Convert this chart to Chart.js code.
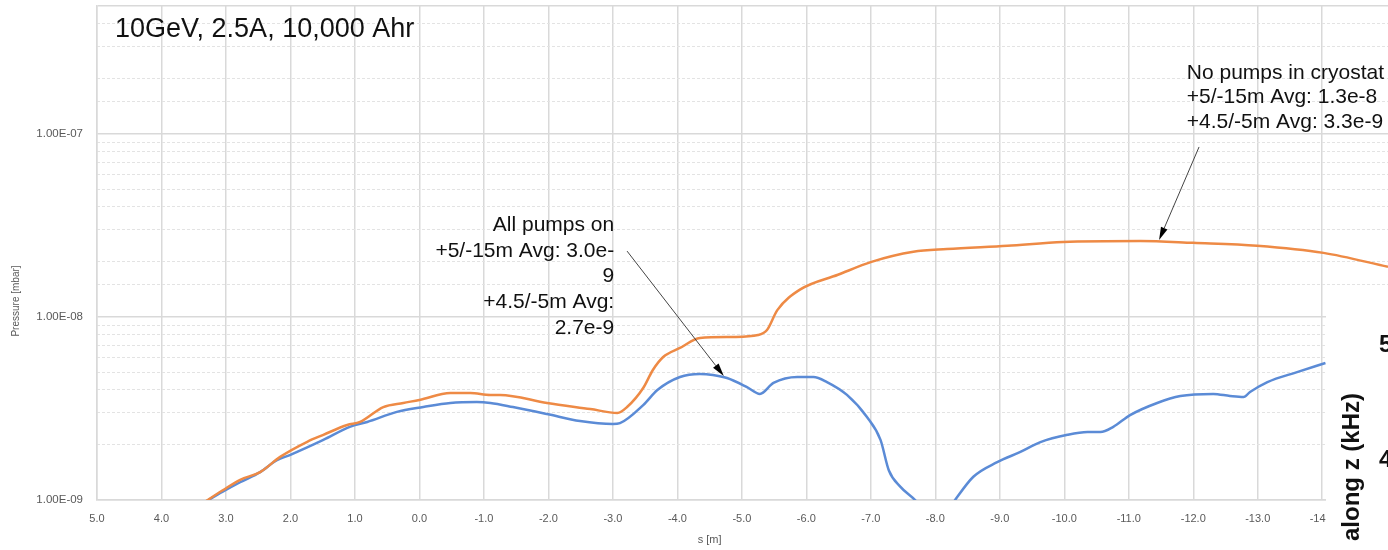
<!DOCTYPE html>
<html lang="en">
<head>
<meta charset="UTF-8">
<title>Pressure along s</title>
<script src="https://cdn.jsdelivr.net/npm/chart.js"></script>
<style>
  body { margin: 0; background: #fff; overflow: hidden; }
</style>
</head>
<body>
<canvas id="pressureChart" width="1388" height="550"></canvas>
<script>
// s positions shown on the x axis (reversed: +5 on the left)
const xTicks = [5, 4, 3, 2, 1, 0, -1, -2, -3, -4, -5, -6, -7, -8, -9, -10, -11, -12, -13, -14];

// "No pumps in cryostat" (orange)
const noPumpsS = [3.4, 3.05, 2.78, 2.47, 2.16, 1.74, 1.49, 1.12, 0.92, 0.56, 0.25, 0.0, -0.48, -0.79, -1.1, -1.25,
  -1.98, -2.65, -3.07, -3.22, -3.47, -3.62, -3.78, -4.04, -4.35, -4.87, -5.25, -5.39, -5.55, -5.9, -6.49, -7.01,
  -7.66, -8.18, -9.12, -9.98, -11.18, -12.0, -12.99, -14.02, -15.02];
const noPumpsP = [0.94e-9, 1.13e-9, 1.29e-9, 1.42e-9, 1.72e-9, 2.08e-9, 2.27e-9, 2.57e-9, 2.67e-9, 3.22e-9, 3.39e-9,
  3.52e-9, 3.84e-9, 3.84e-9, 3.75e-9, 3.75e-9, 3.39e-9, 3.14e-9, 2.99e-9, 3.22e-9, 4.09e-9, 5.13e-9, 6.04e-9, 6.77e-9,
  7.68e-9, 7.78e-9, 7.97e-9, 8.49e-9, 1.09e-8, 1.41e-8, 1.70e-8, 2.0e-8, 2.27e-8, 2.35e-8, 2.45e-8, 2.57e-8, 2.60e-8,
  2.54e-8, 2.45e-8, 2.24e-8, 1.88e-8];

// "All pumps on" (blue)
const allPumpsS = [3.4, 3.05, 2.78, 2.47, 2.21, 2.01, 1.49, 1.08, 0.81, 0.35, -0.06, -0.48, -0.89, -1.1, -1.45, -1.98,
  -2.49, -3.0, -3.11, -3.47, -3.69, -4.04, -4.35, -4.55, -4.77, -5.08, -5.28, -5.49, -5.86, -6.11, -6.32, -6.63, -6.94,
  -7.15, -7.28, -7.46, -7.72, -8.0, -8.28, -8.59, -8.96, -9.32, -9.63, -10.05, -10.36, -10.56, -10.76, -11.02, -11.44,
  -11.8, -12.31, -12.57, -12.78, -12.88, -13.15, -13.61, -14.05];
const allPumpsP = [0.94e-9, 1.11e-9, 1.25e-9, 1.42e-9, 1.65e-9, 1.76e-9, 2.13e-9, 2.51e-9, 2.67e-9, 3.03e-9, 3.22e-9,
  3.39e-9, 3.43e-9, 3.39e-9, 3.22e-9, 2.95e-9, 2.70e-9, 2.60e-9, 2.63e-9, 3.30e-9, 3.99e-9, 4.70e-9, 4.88e-9, 4.82e-9,
  4.64e-9, 4.14e-9, 3.80e-9, 4.36e-9, 4.70e-9, 4.70e-9, 4.41e-9, 3.75e-9, 2.84e-9, 2.13e-9, 1.45e-9, 1.18e-9, 0.97e-9,
  0.7e-9, 0.97e-9, 1.34e-9, 1.61e-9, 1.83e-9, 2.07e-9, 2.27e-9, 2.35e-9, 2.35e-9, 2.51e-9, 2.91e-9, 3.39e-9, 3.70e-9,
  3.80e-9, 3.70e-9, 3.65e-9, 3.89e-9, 4.41e-9, 5.0e-9, 5.6e-9];

const chartNote = '10GeV, 2.5A, 10,000 Ahr';
const allPumpsNote = ['All pumps on', '+5/-15m Avg: 3.0e-', '9', '+4.5/-5m Avg:', '2.7e-9'];
const noPumpsNote = ['No pumps in cryostat', '+5/-15m Avg: 1.3e-8', '+4.5/-5m Avg: 3.3e-9'];

const yMin = 1e-9, yMax = 5e-7;
const FONT = '"Liberation Sans", Arial, sans-serif';
const GRID = '#d9d9d9';

const toPoints = (xs, ys) => xs.map((s, i) => ({ x: s, y: ys[i] }));

function isDecade(v) {
  const e = Math.round(Math.log10(v));
  return Math.abs(v / Math.pow(10, e) - 1) < 1e-6;
}

function sciLabel(v) {
  if (!isDecade(v)) return '';
  const e = Math.round(Math.log10(v));
  return '1.00E' + (e < 0 ? '-' : '+') + String(Math.abs(e)).padStart(2, '0');
}

function drawArrow(ctx, x1, y1, x2, y2) {
  const ang = Math.atan2(y2 - y1, x2 - x1);
  const len = 13, half = 3.5;
  ctx.strokeStyle = '#444';
  ctx.lineWidth = 1;
  ctx.beginPath();
  ctx.moveTo(x1, y1);
  ctx.lineTo(x2 - len * Math.cos(ang), y2 - len * Math.sin(ang));
  ctx.stroke();
  ctx.fillStyle = '#000';
  ctx.beginPath();
  ctx.moveTo(x2, y2);
  ctx.lineTo(x2 - len * Math.cos(ang) + half * Math.sin(ang), y2 - len * Math.sin(ang) - half * Math.cos(ang));
  ctx.lineTo(x2 - len * Math.cos(ang) - half * Math.sin(ang), y2 - len * Math.sin(ang) + half * Math.cos(ang));
  ctx.closePath();
  ctx.fill();
}

const notesPlugin = {
  id: 'notes',
  afterDraw(chart) {
    const { ctx, chartArea } = chart;
    const x = chart.scales.x, y = chart.scales.y;
    ctx.save();

    // title inside the plot
    ctx.fillStyle = '#111';
    ctx.textBaseline = 'middle';
    ctx.textAlign = 'left';
    ctx.font = '27px ' + FONT;
    ctx.fillText(chartNote, chartArea.left + 18, chartArea.top + 24);

    // axis titles
    ctx.fillStyle = '#595959';
    ctx.font = '11px ' + FONT;
    ctx.textAlign = 'center';
    ctx.fillText('s [m]', x.getPixelForValue(-4.5), 540);
    ctx.save();
    ctx.translate(16, 301);
    ctx.rotate(-Math.PI / 2);
    ctx.font = '10px ' + FONT;
    ctx.fillText('Pressure [mbar]', 0, 0);
    ctx.restore();

    // annotations
    ctx.fillStyle = '#111';
    ctx.font = '21px ' + FONT;
    ctx.textAlign = 'right';
    let ty = y.getPixelForValue(3.18e-8);
    allPumpsNote.forEach((line, i) => ctx.fillText(line, x.getPixelForValue(-3.02), ty + i * 25.8));
    ctx.textAlign = 'left';
    ty = y.getPixelForValue(2.15e-7);
    noPumpsNote.forEach((line, i) => ctx.fillText(line, x.getPixelForValue(-11.9), ty + i * 24.5));

    drawArrow(ctx, x.getPixelForValue(-3.22), y.getPixelForValue(2.29e-8),
      x.getPixelForValue(-4.72), y.getPixelForValue(4.76e-9));
    drawArrow(ctx, x.getPixelForValue(-12.09), y.getPixelForValue(8.49e-8),
      x.getPixelForValue(-11.47), y.getPixelForValue(2.63e-8));

    // pasted-over piece of the next figure in the lower right corner
    ctx.fillStyle = '#fff';
    ctx.fillRect(1326, 303, 62, 247);
    ctx.fillStyle = '#111';
    ctx.font = 'bold 24px ' + FONT;
    ctx.textAlign = 'left';
    ctx.fillText('5', 1379, 345);
    ctx.fillText('4', 1379, 460);
    ctx.save();
    ctx.translate(1359, 393);
    ctx.rotate(-Math.PI / 2);
    ctx.textAlign = 'right';
    ctx.textBaseline = 'alphabetic';
    ctx.fillText('along z (kHz)', 0, 0);
    ctx.restore();

    ctx.restore();
  }
};

const ctx = document.getElementById('pressureChart').getContext('2d');
new Chart(ctx, {
  type: 'line',
  data: {
    datasets: [
      { label: 'No pumps in cryostat', data: toPoints(noPumpsS, noPumpsP), borderColor: '#EE8A45',
        borderWidth: 2.5, pointRadius: 0, cubicInterpolationMode: 'monotone' },
      { label: 'All pumps on', data: toPoints(allPumpsS, allPumpsP), borderColor: '#5B8BD6',
        borderWidth: 2.5, pointRadius: 0, cubicInterpolationMode: 'monotone' }
    ]
  },
  options: {
    responsive: false,
    animation: false,
    layout: { padding: { top: 6, right: 0, bottom: 0, left: 0 } },
    plugins: { legend: { display: false }, tooltip: { enabled: false } },
    scales: {
      x: {
        type: 'linear', reverse: true, min: -15.02, max: 5,
        afterBuildTicks: s => { s.ticks = xTicks.map(v => ({ value: v })); },
        afterFit: s => { s.height = 50; s.paddingLeft = 0; s.paddingRight = 0; },
        grid: { color: GRID, lineWidth: 1.5, drawTicks: false },
        border: { color: GRID, width: 1.5 },
        ticks: { color: '#595959', font: { size: 11, family: FONT }, padding: 12, autoSkip: false,
          maxRotation: 0, callback: v => v.toFixed(1) }
      },
      y: {
        type: 'logarithmic', min: yMin, max: yMax, position: 'left',
        afterFit: s => { s.width = 97; s.paddingTop = 0; s.paddingBottom = 0; },
        grid: { color: c => (isDecade(c.tick.value) || c.tick.value >= yMax * 0.999) ? GRID : 'rgba(0,0,0,0)',
          lineWidth: 1.5, drawTicks: false },
        border: { color: GRID, width: 1.5 },
        ticks: { color: '#595959', font: { size: 11.5, family: FONT }, padding: 14, autoSkip: false,
          callback: v => sciLabel(v) }
      },
      yMinor: {
        type: 'logarithmic', min: yMin, max: yMax, position: 'left',
        afterFit: s => { s.width = 0; s.paddingTop = 0; s.paddingBottom = 0; },
        grid: { color: c => (isDecade(c.tick.value) || c.tick.value >= yMax * 0.999) ? 'rgba(0,0,0,0)' : '#e3e3e3',
          lineWidth: 1, drawTicks: false },
        border: { display: false, dash: [3, 2] },
        ticks: { display: false, autoSkip: false }
      }
    }
  },
  plugins: [notesPlugin]
});
</script>
</body>
</html>
